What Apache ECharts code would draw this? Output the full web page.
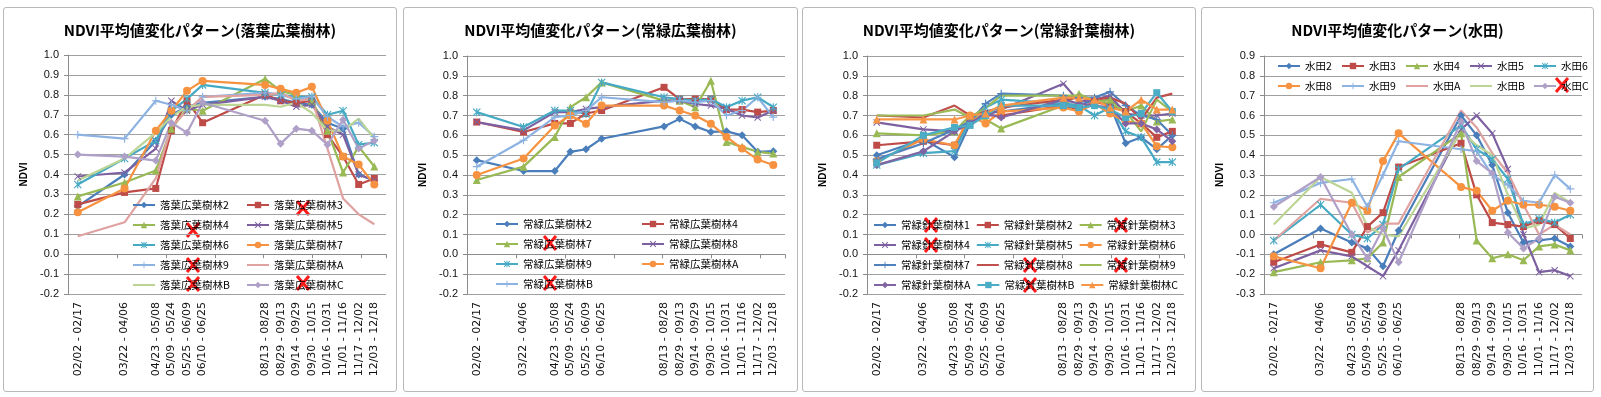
<!DOCTYPE html>
<html>
  <head>
    <meta charset="UTF-8" />
    <title>NDVI平均値変化パターン</title>
    <script src="https://cdn.jsdelivr.net/npm/echarts@6/dist/echarts.min.js"></script>
    <style>
      body {
        margin: 0;
        padding: 0;
        background: #fff;
        width: 1601px;
        height: 397px;
        position: relative;
        overflow: hidden;
      }
      .panel {
        position: absolute;
        top: 7px;
        height: 385px;
        box-sizing: border-box;
        border: 1px solid #b8b8b8;
        border-radius: 3px;
      }
      #p1 { left: 3px; width: 394px; }
      #p2 { left: 403px; width: 395px; }
      #p3 { left: 802px; width: 394px; }
      #p4 { left: 1201px; width: 393px; }
    </style>
  </head>
  <body>
    <div id="p1" class="panel"></div>
    <div id="p2" class="panel"></div>
    <div id="p3" class="panel"></div>
    <div id="p4" class="panel"></div>
    <script type="text/javascript">
      // 16-day composite periods (start day of year) and their tick labels
      var periodDay = [33, 81, 113, 129, 145, 161, 225, 241, 257, 273, 289, 305, 321, 337];
      var periodLabels = [
        "02/02 - 02/17", "03/22 - 04/06", "04/23 - 05/08", "05/09 - 05/24",
        "05/25 - 06/09", "06/10 - 06/25", "08/13 - 08/28", "08/29 - 09/13",
        "09/14 - 09/29", "09/30 - 10/15", "10/16 - 10/31", "11/01 - 11/16",
        "11/17 - 12/02", "12/03 - 12/18"
      ];

      // 落葉広葉樹林
      var decidNames = ["落葉広葉樹林2", "落葉広葉樹林3", "落葉広葉樹林4", "落葉広葉樹林5", "落葉広葉樹林6",
        "落葉広葉樹林7", "落葉広葉樹林9", "落葉広葉樹林A", "落葉広葉樹林B", "落葉広葉樹林C"];
      var decidValues = [
        [0.24, 0.40, 0.57, 0.70, 0.74, 0.76, 0.79, 0.78, 0.76, 0.75, 0.66, 0.63, 0.40, 0.37],
        [0.25, 0.31, 0.33, 0.62, 0.77, 0.66, 0.80, 0.77, 0.76, 0.77, 0.60, 0.49, 0.35, 0.38],
        [0.29, 0.36, 0.42, 0.63, 0.73, 0.72, 0.88, 0.82, 0.80, 0.77, 0.62, 0.41, 0.54, 0.44],
        [0.39, 0.41, 0.53, 0.77, 0.72, 0.75, 0.79, 0.77, 0.74, 0.75, 0.64, 0.60, 0.40, 0.37],
        [0.35, 0.48, 0.57, 0.72, 0.78, 0.85, 0.81, 0.80, 0.79, 0.79, 0.70, 0.72, 0.55, 0.56],
        [0.21, 0.33, 0.62, 0.72, 0.82, 0.87, 0.85, 0.83, 0.81, 0.84, 0.67, 0.49, 0.45, 0.35],
        [0.60, 0.58, 0.77, 0.75, 0.72, 0.79, 0.81, 0.80, 0.78, 0.79, 0.69, 0.64, 0.66, 0.59],
        [0.09, 0.16, 0.38, 0.64, 0.72, 0.79, 0.80, 0.81, 0.77, 0.78, 0.53, 0.28, 0.20, 0.15],
        [0.37, 0.48, 0.61, 0.69, 0.74, 0.75, 0.75, 0.74, 0.76, 0.71, 0.62, 0.62, 0.68, 0.58],
        [0.50, 0.49, 0.47, 0.66, 0.61, 0.76, 0.67, 0.555, 0.63, 0.62, 0.55, 0.675, 0.53, 0.57]
      ];

      // 常緑広葉樹林
      var everBroadNames = ["常緑広葉樹林2", "常緑広葉樹林4", "常緑広葉樹林7", "常緑広葉樹林8",
        "常緑広葉樹林9", "常緑広葉樹林A", "常緑広葉樹林B"];
      var everBroadValues = [
        [0.475, 0.42, 0.42, 0.517, 0.53, 0.583, 0.645, 0.683, 0.645, 0.617, 0.62, 0.60, 0.517, 0.52],
        [0.667, 0.617, 0.66, 0.66, 0.71, 0.725, 0.842, 0.783, 0.783, 0.783, 0.73, 0.73, 0.717, 0.725],
        [0.375, 0.442, 0.592, 0.742, 0.792, 0.867, 0.775, 0.775, 0.742, 0.875, 0.567, 0.542, 0.517, 0.508],
        [0.667, 0.625, 0.717, 0.717, 0.733, 0.742, 0.775, 0.775, 0.758, 0.75, 0.733, 0.70, 0.69, 0.725],
        [0.717, 0.642, 0.725, 0.725, 0.708, 0.867, 0.792, 0.783, 0.775, 0.783, 0.742, 0.775, 0.792, 0.742],
        [0.40, 0.483, 0.65, 0.70, 0.658, 0.75, 0.75, 0.725, 0.70, 0.658, 0.592, 0.533, 0.478, 0.45],
        [0.442, 0.575, 0.692, 0.70, 0.725, 0.792, 0.767, 0.775, 0.767, 0.775, 0.70, 0.725, 0.792, 0.692]
      ];

      // 常緑針葉樹林
      var everNeedleNames = ["常緑針葉樹林1", "常緑針葉樹林2", "常緑針葉樹林3", "常緑針葉樹林4",
        "常緑針葉樹林5", "常緑針葉樹林6", "常緑針葉樹林7", "常緑針葉樹林8", "常緑針葉樹林9",
        "常緑針葉樹林A", "常緑針葉樹林B", "常緑針葉樹林C"];
      var everNeedleValues = [
        [0.50, 0.58, 0.49, 0.66, 0.71, 0.72, 0.76, 0.75, 0.78, 0.75, 0.56, 0.59, 0.53, 0.60],
        [0.55, 0.57, 0.55, 0.68, 0.70, 0.70, 0.75, 0.73, 0.77, 0.75, 0.72, 0.66, 0.59, 0.62],
        [0.61, 0.60, 0.62, 0.70, 0.68, 0.635, 0.75, 0.81, 0.77, 0.78, 0.72, 0.75, 0.67, 0.68],
        [0.665, 0.63, 0.62, 0.66, 0.70, 0.73, 0.86, 0.77, 0.78, 0.80, 0.71, 0.70, 0.70, 0.71],
        [0.45, 0.51, 0.52, 0.68, 0.74, 0.78, 0.76, 0.75, 0.70, 0.74, 0.62, 0.59, 0.465, 0.465],
        [0.47, 0.58, 0.55, 0.70, 0.66, 0.72, 0.74, 0.72, 0.76, 0.71, 0.67, 0.66, 0.545, 0.54],
        [0.48, 0.56, 0.63, 0.67, 0.76, 0.81, 0.80, 0.79, 0.79, 0.82, 0.75, 0.70, 0.68, 0.60],
        [0.70, 0.69, 0.75, 0.70, 0.72, 0.74, 0.78, 0.79, 0.78, 0.79, 0.76, 0.68, 0.79, 0.81],
        [0.70, 0.70, 0.73, 0.69, 0.74, 0.80, 0.80, 0.80, 0.78, 0.76, 0.72, 0.62, 0.78, 0.72],
        [0.45, 0.52, 0.62, 0.66, 0.71, 0.69, 0.78, 0.76, 0.75, 0.74, 0.66, 0.66, 0.63, 0.57],
        [0.46, 0.60, 0.64, 0.65, 0.70, 0.75, 0.75, 0.74, 0.75, 0.73, 0.69, 0.71, 0.815, 0.72],
        [0.68, 0.68, 0.68, 0.70, 0.71, 0.75, 0.79, 0.79, 0.78, 0.74, 0.72, 0.78, 0.73, 0.73]
      ];

      // 水田
      var paddyNames = ["水田2", "水田3", "水田4", "水田5", "水田6", "水田8", "水田9", "水田A", "水田B", "水田C"];
      var paddyValues = [
        [-0.10, 0.03, -0.04, -0.07, -0.16, 0.02, 0.60, 0.50, 0.35, 0.11, -0.04, -0.03, -0.02, -0.06],
        [-0.14, -0.05, -0.09, 0.04, 0.11, 0.34, 0.46, 0.20, 0.06, 0.05, 0.04, 0.07, 0.05, -0.02],
        [-0.19, -0.14, -0.13, -0.12, -0.04, 0.29, 0.51, -0.03, -0.12, -0.10, -0.13, -0.06, -0.05, -0.08],
        [-0.17, -0.08, -0.11, -0.16, -0.21, -0.08, 0.53, 0.60, 0.51, 0.33, 0.00, -0.19, -0.18, -0.21],
        [-0.03, 0.15, 0.00, -0.02, 0.05, 0.33, 0.55, 0.43, 0.38, 0.28, 0.05, 0.08, 0.06, 0.10],
        [-0.11, -0.17, 0.16, 0.12, 0.37, 0.51, 0.24, 0.22, 0.12, 0.17, 0.15, 0.15, 0.14, 0.12],
        [0.16, 0.26, 0.28, 0.14, 0.30, 0.47, 0.43, 0.42, 0.30, 0.25, 0.17, 0.16, 0.30, 0.23],
        [-0.03, 0.18, 0.16, 0.01, 0.055, 0.055, 0.625, 0.54, 0.41, 0.31, 0.15, 0.00, 0.05, 0.00],
        [0.05, 0.29, 0.21, 0.04, 0.00, -0.01, 0.52, 0.45, 0.40, 0.20, 0.03, 0.05, 0.21, 0.16],
        [0.14, 0.29, 0.00, -0.12, 0.03, -0.14, 0.57, 0.37, 0.31, 0.01, -0.07, -0.02, 0.19, 0.16]
      ];

      var X_PATH = "path://M1,0L5,4L9,0L10,1L6,5L10,9L9,10L5,6L1,10L0,9L4,5L0,1Z";
      var STAR_PATH = "path://M1,0L5,4L9,0L10,1L6,5L10,9L9,10L5,6L1,10L0,9L4,5L0,1Z M4.3,0H5.7V10H4.3Z";
      var PLUS_PATH = "path://M4.3,0H5.7V4.3H10V5.7H5.7V10H4.3V5.7H0V4.3H4.3Z";
      var markers = ["diamond", "rect", "triangle", X_PATH, STAR_PATH, "circle", PLUS_PATH, "none", "none", "diamond", "rect", "triangle"];
      var markerSize = [8, 7, 8, 7, 8, 8, 8, 0, 0, 8, 7, 8];

      var paletteA = ["#4A7EBB", "#BE4B48", "#98B954", "#7D60A0", "#46AAC5", "#F69240",
        "#8DB3E2", "#DFA2A1", "#BCD595", "#AFA0C8"];
      var paletteB = ["#4A7EBB", "#BE4B48", "#98B954", "#7D60A0", "#46AAC5", "#F69240",
        "#4F81BD", "#C0504D", "#9BBB59", "#8064A2", "#4BACC6", "#F79646"];

      var panels = [
        {
          id: "p1", title: "NDVI平均値変化パターン(落葉広葉樹林)", names: decidNames, values: decidValues,
          colors: paletteA, yMin: -0.2, yMax: 1.0,
          grid: { left: 64, right: 10, top: 47, bottom: 97 },
          legend: { left: 128, top: 190, width: 226, textWidth: 80 },
          crosses: [[299, 200], [189, 222], [189, 257], [189, 276], [299, 275]]
        },
        {
          id: "p2", title: "NDVI平均値変化パターン(常緑広葉樹林)", names: everBroadNames, values: everBroadValues,
          colors: paletteA, yMin: -0.2, yMax: 1.0,
          grid: { left: 63, right: 12, top: 48, bottom: 97 },
          legend: { left: 91, top: 209, width: 290, textWidth: 112 },
          crosses: [[146, 235], [146, 275]]
        },
        {
          id: "p3", title: "NDVI平均値変化パターン(常緑針葉樹林)", names: everNeedleNames, values: everNeedleValues,
          colors: paletteB, yMin: -0.2, yMax: 1.0,
          grid: { left: 64, right: 11, top: 48, bottom: 97 },
          legend: { left: 70, top: 210, width: 305, textWidth: 68 },
          crosses: [[128, 217], [318, 217], [128, 237], [227, 257], [318, 257], [227, 277]]
        },
        {
          id: "p4", title: "NDVI平均値変化パターン(水田)", names: paddyNames, values: paddyValues,
          colors: paletteA, yMin: -0.3, yMax: 0.9,
          grid: { left: 62, right: 11, top: 48, bottom: 97 },
          legend: { left: 75, top: 51, width: 320, textWidth: 30 },
          crosses: [[360, 77]]
        }
      ];

      function crossMark(p) {
        return {
          type: "group",
          x: p[0],
          y: p[1],
          z: 100,
          children: [
            { type: "line", shape: { x1: -6, y1: -7, x2: 6, y2: 7 }, style: { stroke: "#ff1a1a", lineWidth: 3 } },
            { type: "line", shape: { x1: 6, y1: -7, x2: -6, y2: 7 }, style: { stroke: "#ff1a1a", lineWidth: 3 } }
          ]
        };
      }

      function buildPanel(cfg) {
        var chart = echarts.init(document.getElementById(cfg.id));
        var series = cfg.names.map(function(name, i) {
          return {
            type: "line",
            name: name,
            xAxisIndex: 0,
            yAxisIndex: 0,
            data: periodDay.map(function(d, k) {
              return [d, cfg.values[i][k]];
            }),
            symbol: markers[i],
            symbolSize: markerSize[i],
            showAllSymbol: true,
            lineStyle: { width: 2.2, color: cfg.colors[i] },
            itemStyle: { color: cfg.colors[i] },
            emphasis: { disabled: true }
          };
        });
        // series drawn without markers show a plain line in the legend
        var legendData = cfg.names.map(function(name, i) {
          return markers[i] === "none" ? { name: name, itemStyle: { opacity: 0 } } : { name: name };
        });
        chart.setOption({
          animation: false,
          title: {
            text: cfg.title,
            left: "center",
            top: 15,
            padding: 0,
            textStyle: {
              fontFamily: "Noto Sans CJK JP",
              fontWeight: "bold",
              fontSize: 15,
              color: "#000"
            }
          },
          grid: cfg.grid,
          legend: {
            data: legendData,
            left: cfg.legend.left,
            top: cfg.legend.top,
            width: cfg.legend.width,
            padding: 0,
            itemGap: 6,
            itemWidth: 22,
            itemHeight: 8,
            selectedMode: false,
            textStyle: {
              fontFamily: "Noto Sans CJK JP",
              fontSize: 10.5,
              lineHeight: 14,
              width: cfg.legend.textWidth,
              color: "#000"
            }
          },
          xAxis: [
            {
              type: "value",
              min: 23,
              max: 349,
              position: "bottom",
              axisLine: { show: false, onZero: false },
              axisTick: { show: false },
              splitLine: { show: false },
              axisLabel: {
                customValues: periodDay,
                rotate: 90,
                margin: 8,
                fontFamily: "DejaVu Sans",
                fontSize: 11,
                color: "#111",
                formatter: function(v) {
                  var idx = periodDay.indexOf(v);
                  return idx >= 0 ? periodLabels[idx] : "";
                }
              }
            },
            {
              // axis line with its tick marks crossing at NDVI = 0
              type: "value",
              min: 0,
              max: 6.5,
              interval: 1,
              position: "bottom",
              axisLine: { show: true, onZero: true, lineStyle: { color: "#8c8c8c", width: 1 } },
              axisTick: { show: true, length: 4, lineStyle: { color: "#8c8c8c" } },
              axisLabel: { show: false },
              splitLine: { show: false }
            }
          ],
          yAxis: {
            type: "value",
            min: cfg.yMin,
            max: cfg.yMax,
            interval: 0.1,
            name: "NDVI",
            nameLocation: "middle",
            nameGap: 38,
            nameTextStyle: { fontFamily: "Liberation Sans", fontWeight: "bold", fontSize: 10, color: "#000" },
            axisLine: { show: true, lineStyle: { color: "#8c8c8c" } },
            axisTick: { show: true, length: 4, lineStyle: { color: "#8c8c8c" } },
            splitLine: { show: true, lineStyle: { color: "#a0a0a0", width: 1 } },
            axisLabel: {
              margin: 9,
              fontFamily: "Liberation Sans",
              fontSize: 11,
              color: "#111",
              formatter: function(v) {
                return (Math.round(v * 10) / 10).toFixed(1);
              }
            }
          },
          graphic: cfg.crosses.map(crossMark),
          series: series
        });
        return chart;
      }

      panels.forEach(buildPanel);
    </script>
  </body>
</html>
